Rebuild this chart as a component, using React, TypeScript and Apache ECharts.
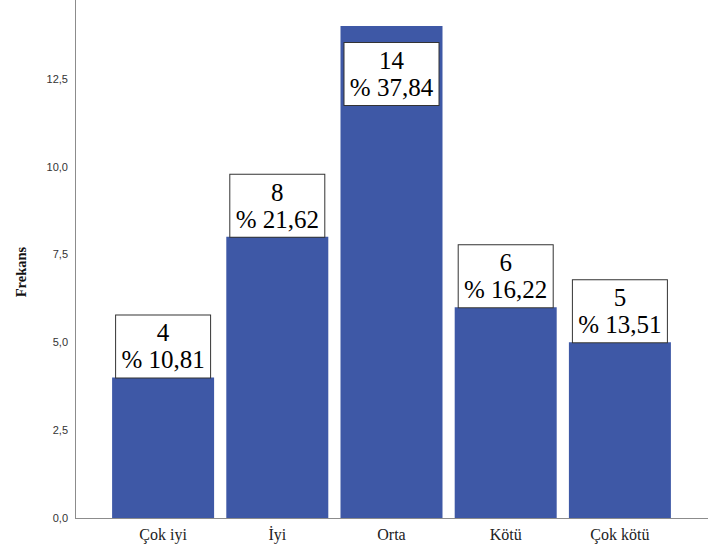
import React, { useEffect, useRef } from "react";
import * as echarts from "echarts";

const categories = ["Çok iyi", "İyi", "Orta", "Kötü", "Çok kötü"];
const frequencies = [4, 8, 14, 6, 5];
const percents = ["10,81", "21,62", "37,84", "16,22", "13,51"];
const yTicks = [0, 2.5, 5, 7.5, 10, 12.5];

const SERIF = "Times New Roman";
const SANS = "Arial";

export default function App() {
  const ref = useRef<HTMLDivElement>(null);
  useEffect(() => {
    if (!ref.current) return;
    const chart = echarts.init(ref.current, undefined, { renderer: "svg" });
    const yMax = (14 * 518) / 492;
    const baseGraphics: any[] = [
      {
        type: "line",
        shape: { x1: 75, y1: 518.5, x2: 708, y2: 518.5 },
        style: { stroke: "#8c8c8c", lineWidth: 1 },
        silent: true,
      },
      {
        type: "text",
        x: 21,
        y: 272,
        rotation: Math.PI / 2,
        style: {
          text: "Frekans",
          fontFamily: SERIF,
          fontWeight: "bold",
          fontSize: 14.5,
          fill: "#111",
          textAlign: "center",
          textVerticalAlign: "middle",
        },
      },
    ];
    chart.setOption({
      animation: false,
      backgroundColor: "#ffffff",
      grid: { left: 106, right: 31, top: 0, bottom: 33, containLabel: false },
      xAxis: {
        type: "category",
        data: categories,
        axisLine: { show: false },
        axisTick: { show: false },
        axisLabel: { margin: 8, color: "#222", fontFamily: SERIF, fontSize: 16 },
      },
      yAxis: {
        type: "value",
        min: 0,
        max: yMax,
        interval: 2.5,
        offset: 31,
        axisLine: { show: true, lineStyle: { color: "#8c8c8c", width: 1 } },
        axisTick: { show: false },
        splitLine: { show: false },
        axisLabel: {
          showMaxLabel: false,
          margin: 7,
          color: "#333",
          fontFamily: SANS,
          fontSize: 11,
          formatter: (v: number) =>
            yTicks.indexOf(v) >= 0 ? v.toFixed(1).replace(".", ",") : "",
        },
      },
      graphic: baseGraphics,
      series: [
        {
          type: "bar",
          data: frequencies,
          barWidth: 102,
          itemStyle: { color: "#3e58a6" },
          label: { show: false },
        },
      ],
    });

    const labelGraphics = frequencies.map((v, i) => {
      const pt = chart.convertToPixel({ seriesIndex: 0 }, [i, v]) as number[];
      const inside = v === Math.max(...frequencies);
      return {
        type: "text",
        z: 100,
        x: pt[0],
        y: inside ? pt[1] + 17 : pt[1],
        style: {
          text: `${v}\n% ${percents[i]}`,
          fontFamily: SERIF,
          fontSize: 25,
          lineHeight: 27,
          fill: "#000",
          backgroundColor: "#ffffff",
          borderColor: "#333",
          borderWidth: 1,
          padding: [4, 3, 4, 3],
          width: 88,
          align: "center",
          verticalAlign: inside ? "top" : "bottom",
        },
      };
    });
    chart.setOption({ graphic: [...baseGraphics, ...labelGraphics] });
    return () => chart.dispose();
  }, []);
  return (
    <div
      ref={ref}
      style={{ position: "fixed", left: 0, top: 0, width: 708, height: 551 }}
    />
  );
}
